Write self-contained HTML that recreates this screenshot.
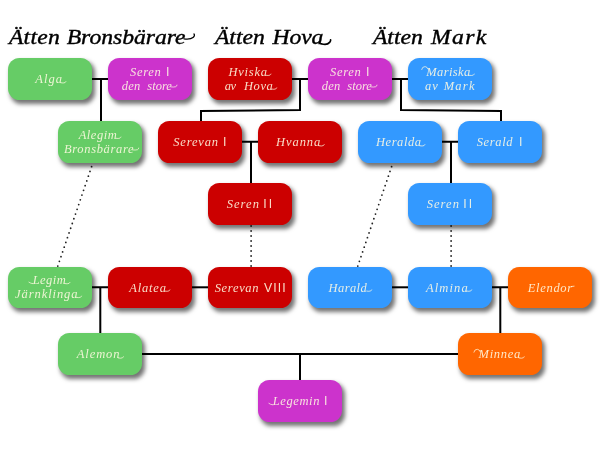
<!DOCTYPE html>
<html><head><meta charset="utf-8"><title>Family tree</title>
<style>
html,body{margin:0;padding:0;background:#fff;}
body{width:600px;height:450px;position:relative;overflow:hidden;}
svg{position:absolute;left:0;top:0;will-change:transform;}
.b{position:absolute;width:83.7px;height:41.6px;border-radius:11.5px;box-shadow:2.5px 3.5px 4px rgba(0,0,0,.55);}
.g{background:#66cc66}.m{background:#cc33cc}.r{background:#cc0000}.u{background:#3399ff}.o{background:#ff6600}
.s{font-family:"Liberation Serif",serif;font-style:italic;font-size:12.5px;fill:#fffbe2;fill-opacity:.88;}
.n{font-family:"Liberation Sans",sans-serif;font-size:12.3px;fill:#fffbe2;fill-opacity:.88;}
.w{fill:none;stroke:#fffbe2;stroke-opacity:.8;stroke-width:.9px;stroke-linecap:round;}
.tw{fill:none;stroke:#000;stroke-linecap:round;}
.t{font-family:"Liberation Serif",serif;font-style:italic;font-size:21.5px;fill:#000;stroke:#000;stroke-width:.4px;}
</style></head><body>
<svg width="600" height="450" viewBox="0 0 600 450">
<g stroke="#000" stroke-width="2" fill="none">
<path d="M92 78.9H108.5M101 78.9V121"/>
<path d="M292 78.9H308.5M300 78.9V110L201 111.1V121.2M300 109.2V111"/>
<path d="M392 78.9H408.5M401 78.9V109.9L501 110.9V121.2M501 110V112"/>
<path d="M242 141.8H258.5M251 141.8V183.2"/>
<path d="M442 141.8H458.5M451 141.8V183.2"/>
<path d="M92 287.3H108.5M100.3 287.3V333.2"/>
<path d="M192 287.3H208.5"/>
<path d="M392 287.3H408.5"/>
<path d="M492 287.3H508.5M500.3 287.3V333.2"/>
<path d="M142 353.9H458.5M300 353.9V380.2"/>
</g>
<g stroke="#222" stroke-width="1.8" fill="none" stroke-linecap="round" stroke-dasharray="0 5">
<path d="M251.1 226V267"/>
<path d="M451.1 226V267"/>
<path d="M91.6 166.7L57.3 267.5"/>
<path d="M391.6 166.7L357.3 267.5"/>
</g>
</svg>
<div class="b g" style="left:8.3px;top:58.2px"></div>
<div class="b m" style="left:108.3px;top:58.2px"></div>
<div class="b r" style="left:208.3px;top:58.2px"></div>
<div class="b m" style="left:308.3px;top:58.2px"></div>
<div class="b u" style="left:408.3px;top:58.2px"></div>
<div class="b g" style="left:58.3px;top:121.2px"></div>
<div class="b r" style="left:158.3px;top:121.2px"></div>
<div class="b r" style="left:258.3px;top:121.2px"></div>
<div class="b u" style="left:358.3px;top:121.2px"></div>
<div class="b u" style="left:458.3px;top:121.2px"></div>
<div class="b r" style="left:208.3px;top:183.39999999999998px"></div>
<div class="b u" style="left:408.3px;top:183.39999999999998px"></div>
<div class="b g" style="left:8.3px;top:266.5px"></div>
<div class="b r" style="left:108.3px;top:266.5px"></div>
<div class="b r" style="left:208.3px;top:266.5px"></div>
<div class="b u" style="left:308.3px;top:266.5px"></div>
<div class="b u" style="left:408.3px;top:266.5px"></div>
<div class="b o" style="left:508.3px;top:266.5px"></div>
<div class="b g" style="left:58.3px;top:333.4px"></div>
<div class="b o" style="left:458.3px;top:333.4px"></div>
<div class="b m" style="left:258.3px;top:380.2px"></div>
<svg width="600" height="450" viewBox="0 0 600 450">
<text class="t" transform="translate(8.90,43.8) scale(1.100,1)" letter-spacing="0.231">Ätten</text>
<text class="t" transform="translate(66.70,43.8) scale(1.100,1)" letter-spacing="-0.030">Bronsbärare</text>
<text class="t" transform="translate(214.90,43.8) scale(1.100,1)" letter-spacing="0.003">Ätten</text>
<text class="t" transform="translate(272.60,43.8) scale(1.100,1)" letter-spacing="-0.152">Hova</text>
<text class="t" transform="translate(372.90,43.8) scale(1.100,1)" letter-spacing="0.003">Ätten</text>
<text class="t" transform="translate(431.10,43.8) scale(1.100,1)" letter-spacing="1.173">Mark</text>
<path class="tw" stroke-width="1.3" d="M184 38.9C188 39.3 191 39.3 193 37.6C194.6 36.2 194.7 34.7 194 34"/>
<path class="tw" stroke-width="1.7" d="M321 43.7C324.5 44.8 328 44.4 329.6 42.4C330.5 41.2 330.8 40.4 330.6 39.9"/>
<text class="s" x="35.30" y="83.2" letter-spacing="1.014">Alga</text>
<path class="w" d="M60.9 82.8q2.5 .55 4.2 -.25q.6 -.4 .8 -1"/>
<text class="s" x="130.00" y="75.7" letter-spacing="0.713">Seren</text>
<text class="n" x="166.00" y="75.7" letter-spacing="0.000">I</text>
<text class="s" x="121.70" y="89.5" letter-spacing="0.251">den</text>
<text class="s" x="147.30" y="89.5" letter-spacing="0.003">store</text>
<path class="w" d="M170.8 86.9q3 .4 5 -.2q1.2 -.5 1.2 -1.6"/>
<text class="s" x="228.50" y="75.7" letter-spacing="0.748">Hviska</text>
<path class="w" d="M265.9 75.3q2.5 .55 4.2 -.25q.6 -.4 .8 -1"/>
<text class="s" x="224.70" y="89.5" letter-spacing="-0.450">av</text>
<text class="s" x="244.00" y="89.5" letter-spacing="0.558">Hova</text>
<path class="w" d="M271.7 89.1q2.5 .55 4.2 -.25q.6 -.4 .8 -1"/>
<text class="s" x="330.00" y="75.7" letter-spacing="0.713">Seren</text>
<text class="n" x="366.00" y="75.7" letter-spacing="0.000">I</text>
<text class="s" x="321.70" y="89.5" letter-spacing="0.251">den</text>
<text class="s" x="347.30" y="89.5" letter-spacing="0.003">store</text>
<path class="w" d="M370.8 86.9q3 .4 5 -.2q1.2 -.5 1.2 -1.6"/>
<text class="s" x="426.30" y="75.7" letter-spacing="0.381">Mariska</text>
<path class="w" d="M469.2 75.3q2.5 .55 4.2 -.25q.6 -.4 .8 -1"/>
<path class="w" d="M421.7 69.5q.5 -3 3.4 -2.9q2.2 .2 3 2.4"/>
<text class="s" x="425.00" y="89.5" letter-spacing="0.950">av</text>
<text class="s" x="443.70" y="89.5" letter-spacing="1.258">Mark</text>
<text class="s" x="78.70" y="138.7" letter-spacing="0.524">Alegim</text>
<path class="w" d="M115.9 138.3q2.5 .55 4.2 -.25q.6 -.4 .8 -1"/>
<text class="s" x="64.00" y="152.5" letter-spacing="0.658">Bronsbärare</text>
<path class="w" d="M132.5 149.9q3 .4 5 -.2q1.2 -.5 1.2 -1.6"/>
<text class="s" x="173.30" y="146.2" letter-spacing="0.809">Serevan</text>
<text class="n" x="223.00" y="146.2" letter-spacing="0.000">I</text>
<text class="s" x="276.00" y="146.2" letter-spacing="0.935">Hvanna</text>
<path class="w" d="M319.2 145.8q2.5 .55 4.2 -.25q.6 -.4 .8 -1"/>
<text class="s" x="376.00" y="146.2" letter-spacing="0.548">Heralda</text>
<path class="w" d="M419.9 145.8q2.5 .55 4.2 -.25q.6 -.4 .8 -1"/>
<text class="s" x="476.70" y="146.2" letter-spacing="0.643">Serald</text>
<text class="n" x="519.00" y="146.2" letter-spacing="0.000">I</text>
<text class="s" x="226.70" y="208.4" letter-spacing="1.063">Seren</text>
<text class="n" x="263.20" y="208.4" letter-spacing="2.084">II</text>
<text class="s" x="426.70" y="208.4" letter-spacing="1.063">Seren</text>
<text class="n" x="463.20" y="208.4" letter-spacing="2.084">II</text>
<text class="s" x="32.70" y="284.0" letter-spacing="0.444">Legim</text>
<path class="w" d="M64.9 283.6q2.5 .55 4.2 -.25q.6 -.4 .8 -1"/>
<path class="w" d="M32.9 283.7q-2.2 -.2 -4 -1.5"/>
<text class="s" x="15.00" y="297.8" letter-spacing="0.933">Järnklinga</text>
<path class="w" d="M76.5 297.4q2.5 .55 4.2 -.25q.6 -.4 .8 -1"/>
<text class="s" x="129.30" y="291.5" letter-spacing="0.804">Alatea</text>
<path class="w" d="M164.9 291.1q2.5 .55 4.2 -.25q.6 -.4 .8 -1"/>
<text class="s" x="214.70" y="291.5" letter-spacing="0.676">Serevan</text>
<text class="n" x="264.00" y="291.5" letter-spacing="1.088">VIII</text>
<text class="s" x="328.50" y="291.5" letter-spacing="0.427">Harald</text>
<path class="w" d="M366.7 291.1q2.5 .55 4.2 -.25q.6 -.4 .8 -1"/>
<text class="s" x="426.00" y="291.5" letter-spacing="1.128">Almina</text>
<path class="w" d="M466.7 291.1q2.5 .55 4.2 -.25q.6 -.4 .8 -1"/>
<text class="s" x="527.80" y="291.5" letter-spacing="0.682">Elendor</text>
<path class="w" d="M571.5 286.5l2.6 -.3"/>
<text class="s" x="76.80" y="358.4" letter-spacing="0.893">Alemon</text>
<path class="w" d="M118.4 358.0q2.5 .55 4.2 -.25q.6 -.4 .8 -1"/>
<text class="s" x="478.50" y="358.4" letter-spacing="0.713">Minnea</text>
<path class="w" d="M519.2 358.0q2.5 .55 4.2 -.25q.6 -.4 .8 -1"/>
<path class="w" d="M473.9 352.2q.5 -3 3.4 -2.9q2.2 .2 3 2.4"/>
<text class="s" x="272.70" y="405.2" letter-spacing="0.617">Legemin</text>
<path class="w" d="M272.9 404.9q-2.2 -.2 -4 -1.5"/>
<text class="n" x="324.00" y="405.2" letter-spacing="0.000">I</text>
</svg>
</body></html>
